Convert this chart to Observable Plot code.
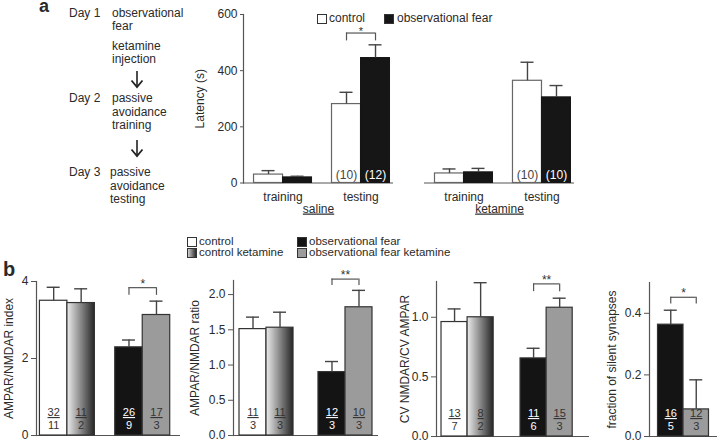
<!DOCTYPE html>
<html><head><meta charset="utf-8">
<script src="https://cdn.jsdelivr.net/npm/d3@7"></script>
<script src="https://cdn.jsdelivr.net/npm/@observablehq/plot@0.6"></script>
<style>
body{margin:0;background:#fff;font-family:"Liberation Sans",Arial,sans-serif;color:#2a2a2a;}
#fig{position:relative;width:717px;height:441px;overflow:hidden;background:#fff;}
.abs{position:absolute;white-space:nowrap;font-size:12px;line-height:14px;}
.leg{font-size:11.5px;line-height:11px;}
.sq{position:absolute;width:8px;height:8px;border:1px solid #333;box-sizing:content-box;}
g[aria-label="fx-axis tick label"] text{text-decoration:underline;}
g[font-style="normal"] text{text-decoration:underline;}
</style></head><body><div id="fig"></div><script>
// ---------------- data ----------------
// timeline (panel a, left)
const timelineDays = ["Day 1", "Day 2", "Day 3"];
const timelineSteps = [
  ["observational", "fear", "ketamine", "injection"],
  ["passive", "avoidance", "training"],
  ["passive", "avoidance", "testing"]
];
// panel a: passive avoidance latency (s)
const aTreatment = ["saline", "saline", "ketamine", "ketamine"];
const aPhase = ["training", "testing", "training", "testing"];
const aControlMean = [30, 281, 34, 364];
const aControlSem = [14, 42, 16, 66];
const aFearMean = [20, 445, 38, 305];
const aFearSem = [4, 47, 14, 42];
const aControlN = ["", "(10)", "", "(10)"];
const aFearN = ["", "(12)", "", "(10)"];
const aSigTreatment = ["saline"];
const aSigPhase = ["testing"];
const aSigLevel = [534];
const aSigLabel = ["*"];
// panel b
const bGroups = ["control", "control ketamine", "observational fear", "observational fear ketamine"];
const indexMean = [3.50, 3.44, 2.29, 3.13];
const indexSem = [0.35, 0.37, 0.19, 0.36];
const indexCells = [32, 11, 26, 17];
const indexAnimals = [11, 2, 9, 3];
const ratioMean = [1.51, 1.53, 0.90, 1.82];
const ratioSem = [0.17, 0.22, 0.15, 0.24];
const ratioCells = [11, 11, 12, 10];
const ratioAnimals = [3, 3, 3, 3];
const cvMean = [0.96, 1.00, 0.655, 1.08];
const cvSem = [0.11, 0.29, 0.085, 0.08];
const cvCells = [13, 8, 11, 15];
const cvAnimals = [7, 2, 6, 3];
const silentGroups = ["observational fear", "observational fear ketamine"];
const silentMean = [0.363, 0.088];
const silentSem = [0.047, 0.096];
const silentCells = [16, 12];
const silentAnimals = [5, 3];
const bSigLevel = [3.84, 2.22, 1.28, 0.452];
const bSigLabel = ["*", "**", "**", "*"];

// ---------------- helpers ----------------
const fig = document.getElementById("fig");
const FONT = "'Liberation Sans', Arial, sans-serif";
function txt(text, left, cy, extra = {}, cls = "") {
  const d = document.createElement("div");
  d.className = "abs " + cls;
  d.textContent = text;
  d.style.left = left + "px";
  d.style.top = (cy - (cls ? 5.5 : 7)) + "px";
  Object.assign(d.style, extra);
  fig.appendChild(d);
  return d;
}
function square(left, cy, fill) {
  const s = document.createElement("div");
  s.className = "sq";
  s.style.left = left + "px";
  s.style.top = (cy - 4.5) + "px";
  s.style.background = fill;
  fig.appendChild(s);
}
function put(node, left, top) {
  node.style.position = "absolute";
  node.style.left = left + "px";
  node.style.top = top + "px";
  fig.appendChild(node);
}
const plotStyle = {fontFamily: FONT, fontSize: "12px", color: "#2a2a2a", background: "transparent", overflow: "visible", maxWidth: "none"};

// ---------------- panel a: timeline ----------------
txt("a", 39, 6, {fontWeight: "bold", fontSize: "18px", lineHeight: "12px", top: "0px"});
const dayTop = [12.5, 97.7, 171.7];
const lineH = 13.8;
timelineDays.forEach((d, i) => {
  txt(d, 69, dayTop[i]);
  timelineSteps[i].forEach((s, j) => {
    const extraGap = (i === 0 && j >= 2) ? 5.5 : 0;
    txt(s, i === 2 ? 110 : 112, dayTop[i] + j * lineH + extraGap);
  });
});
// arrows between days
const arr = d3.create("svg").attr("width", 20).attr("height", 200);
[[71, 87], [140, 156]].forEach(([y1, y2]) => {
  arr.append("line").attr("x1", 10).attr("x2", 10).attr("y1", y1).attr("y2", y2).attr("stroke", "#222").attr("stroke-width", 1.6);
  arr.append("path").attr("d", `M4.5,${y2 - 6.5} L10,${y2} L15.5,${y2 - 6.5}`).attr("fill", "none").attr("stroke", "#222").attr("stroke-width", 1.8);
});
put(arr.node(), 127, 0);

// ---------------- panel a: chart ----------------
const aRows = aTreatment.map((t, i) => ({treatment: t, phase: aPhase[i], cMean: aControlMean[i], cSem: aControlSem[i], fMean: aFearMean[i], fSem: aFearSem[i], cN: aControlN[i], fN: aFearN[i]}));
const aSig = aSigTreatment.map((t, i) => ({treatment: t, phase: aSigPhase[i], level: aSigLevel[i], label: aSigLabel[i]}));
const A = {w: 420, h: 222, mL: 63, mR: 26, mT: 14, mB: 39.5};
const aFx = {pi: 0.171, po: 0};
const aX = {pi: 0.256, po: 0.09, align: 0.75};
const aFacetW = d3.scaleBand().domain(["saline", "ketamine"]).range([0, A.w - A.mL - A.mR]).paddingInner(aFx.pi).paddingOuter(aFx.po).bandwidth();
const aBw = d3.scaleBand().domain(["training", "testing"]).range([0, aFacetW]).paddingInner(aX.pi).paddingOuter(aX.po).align(aX.align).bandwidth();
const aq = aBw / 4, cap = 6.5;
const errStroke = "#444";
const plotA = Plot.plot({
  width: A.w, height: A.h, marginLeft: A.mL, marginRight: A.mR, marginTop: A.mT, marginBottom: A.mB,
  style: plotStyle,
  fx: {domain: ["saline", "ketamine"], paddingInner: aFx.pi, paddingOuter: aFx.po, round: false, label: null},
  x: {domain: ["training", "testing"], paddingInner: aX.pi, paddingOuter: aX.po, align: aX.align, round: false, label: null},
  y: {domain: [0, 600], label: null},
  marks: [
    Plot.frame({anchor: "left", facetAnchor: "left", stroke: "#555", strokeWidth: 1.2}),
    Plot.ruleY([0], {stroke: "#555", strokeWidth: 1.2}),
    Plot.barY(aRows, {fx: "treatment", x: "phase", y: "cMean", fill: "white", stroke: "#666", strokeWidth: 1.2, insetRight: aBw / 2}),
    Plot.barY(aRows, {fx: "treatment", x: "phase", y: "fMean", fill: "#161616", stroke: "#161616", insetLeft: aBw / 2}),
    Plot.ruleX(aRows, {fx: "treatment", x: "phase", y1: "cMean", y2: d => d.cMean + d.cSem, dx: -aq, stroke: errStroke, strokeWidth: 1.4}),
    Plot.tickY(aRows, {fx: "treatment", x: "phase", y: d => d.cMean + d.cSem, insetLeft: aq - cap, insetRight: 3 * aq - cap, stroke: errStroke, strokeWidth: 1.4}),
    Plot.ruleX(aRows, {fx: "treatment", x: "phase", y1: "fMean", y2: d => d.fMean + d.fSem, dx: aq, stroke: errStroke, strokeWidth: 1.4}),
    Plot.tickY(aRows, {fx: "treatment", x: "phase", y: d => d.fMean + d.fSem, insetLeft: 3 * aq - cap, insetRight: aq - cap, stroke: errStroke, strokeWidth: 1.4}),
    Plot.text(aRows, {fx: "treatment", x: "phase", y: 0, text: "cN", dx: -aq, dy: -8, fill: "#444", fontSize: 12}),
    Plot.text(aRows, {fx: "treatment", x: "phase", y: 0, text: "fN", dx: aq, dy: -8, fill: "white", fontSize: 12}),
    Plot.tickY(aSig, {fx: "treatment", x: "phase", y: "level", insetLeft: aq, insetRight: aq, stroke: "#555", strokeWidth: 1.2}),
    Plot.ruleX(aSig, {fx: "treatment", x: "phase", y1: "level", y2: d => d.level - 28, dx: -aq, stroke: "#555", strokeWidth: 1.2}),
    Plot.ruleX(aSig, {fx: "treatment", x: "phase", y1: "level", y2: d => d.level - 28, dx: aq, stroke: "#555", strokeWidth: 1.2}),
    Plot.text(aSig, {fx: "treatment", x: "phase", y: "level", text: "label", dy: -2, fontSize: 11, fill: "#333"}),
    Plot.axisY({ticks: [0, 200, 400, 600], tickSize: 3, tickPadding: 3, label: "Latency (s)", labelArrow: "none", labelAnchor: "center", labelOffset: 48, fontSize: 12, stroke: "#555"}),
    Plot.axisX({tickSize: 0, tickPadding: 9, label: null, fontSize: 12}),
    Plot.axisFx({anchor: "bottom", tickSize: 0, tickPadding: 21, label: null, fontSize: 12})
  ]
});
put(plotA, 180, 0);

// legend a
square(317, 18.3, "white");
txt("control", 329, 18.3);
square(384, 18.3, "#161616");
txt("observational fear", 397, 18.3);

// ---------------- panel b ----------------
txt("b", 3, 270, {fontWeight: "bold", fontSize: "20px", lineHeight: "16px", top: "261px"});
// legend b
square(187, 241, "white");
txt("control", 199, 241, {}, "leg");
square(187, 252.5, "linear-gradient(90deg,#cfcfcf,#2a2a2a)");
txt("control ketamine", 199, 252.5, {}, "leg");
square(297, 241, "#141414");
txt("observational fear", 309, 241, {}, "leg");
square(297, 252.5, "#9b9b9b");
txt("observational fear ketamine", 309, 252.5, {}, "leg");

const groupFill = {
  "control": "white",
  "control ketamine": "GRAD",
  "observational fear": "#141414",
  "observational fear ketamine": "#9b9b9b"
};
const groupText = {
  "control": "#333",
  "control ketamine": "#333",
  "observational fear": "white",
  "observational fear ketamine": "#333"
};
const pairOf = g => g.replace(" ketamine", "");
const isKet = g => g.endsWith("ketamine");

function panelB(cfg, idx) {
  const rows = cfg.groups.map((g, i) => ({group: g, pair: pairOf(g), mean: cfg.mean[i], sem: cfg.sem[i], cells: String(cfg.cells[i]), animals: String(cfg.animals[i])}));
  const sig = [{pair: "observational fear", level: bSigLevel[idx], label: bSigLabel[idx]}];
  const xDomain = cfg.xDomain;
  const frameW = cfg.w - cfg.mL - cfg.mR;
  const bw = d3.scaleBand().domain(xDomain).range([0, frameW]).paddingInner(cfg.pi).paddingOuter(cfg.po).align(cfg.align).bandwidth();
  const q = bw / 4;
  const gradId = "gk" + idx;
  const marks = [
    () => {
      const defs = d3.create("svg:defs");
      const lg = defs.append("linearGradient").attr("id", gradId).attr("x1", "0").attr("x2", "1").attr("y1", "0").attr("y2", "0");
      lg.append("stop").attr("offset", "0%").attr("stop-color", "#ececec");
      lg.append("stop").attr("offset", "100%").attr("stop-color", "#262626");
      return defs.node();
    },
    Plot.frame({anchor: "left", stroke: "#555", strokeWidth: 1.2}),
    Plot.ruleY([0], {stroke: "#555", strokeWidth: 1.2})
  ];
  for (const g of cfg.groups) {
    const data = rows.filter(d => d.group === g);
    const ket = isKet(g);
    const off = ket ? q : -q;
    const fill = groupFill[g] === "GRAD" ? `url(#${gradId})` : groupFill[g];
    marks.push(
      Plot.barY(data, {x: "pair", y: "mean", fill, stroke: "#333", strokeWidth: 1.2, insetLeft: ket ? bw / 2 : 0, insetRight: ket ? 0 : bw / 2}),
      Plot.ruleX(data, {x: "pair", y1: "mean", y2: d => d.mean + d.sem, dx: off, stroke: errStroke, strokeWidth: 1.4}),
      Plot.tickY(data, {x: "pair", y: d => d.mean + d.sem, insetLeft: ket ? 3 * q - cap : q - cap, insetRight: ket ? q - cap : 3 * q - cap, stroke: errStroke, strokeWidth: 1.4}),
      Plot.text(data, {x: "pair", y: 0, text: "cells", dx: off, dy: -23, fill: groupText[g], fontSize: 11, fontStyle: "normal"}),
      Plot.text(data, {x: "pair", y: 0, text: "animals", dx: off, dy: -10, fill: groupText[g], fontSize: 11})
    );
  }
  const drop = cfg.drop;
  marks.push(
    Plot.tickY(sig, {x: "pair", y: "level", insetLeft: q, insetRight: q, stroke: "#555", strokeWidth: 1.2}),
    Plot.ruleX(sig, {x: "pair", y1: "level", y2: d => d.level - drop, dx: -q, stroke: "#555", strokeWidth: 1.2}),
    Plot.ruleX(sig, {x: "pair", y1: "level", y2: d => d.level - drop, dx: q, stroke: "#555", strokeWidth: 1.2}),
    Plot.text(sig, {x: "pair", y: "level", text: "label", dy: -4, fontSize: 12, fill: "#333"}),
    Plot.axisY({ticks: cfg.ticks, tickFormat: cfg.fmt, tickSize: 5, tickPadding: 3, label: cfg.label, labelArrow: "none", labelAnchor: "center", labelOffset: cfg.labelOffset, fontSize: 12, stroke: "#555"})
  );
  const p = Plot.plot({
    width: cfg.w, height: cfg.h, marginLeft: cfg.mL, marginRight: cfg.mR, marginTop: cfg.mT, marginBottom: cfg.mB,
    style: plotStyle,
    x: {domain: xDomain, paddingInner: cfg.pi, paddingOuter: cfg.po, align: cfg.align, round: false, axis: null},
    y: {domain: cfg.yDomain, label: null},
    marks
  });
  put(p, cfg.left, cfg.top);
}

panelB({groups: bGroups, mean: indexMean, sem: indexSem, cells: indexCells, animals: indexAnimals,
  left: 0, top: 270, w: 185, h: 171, mL: 36, mR: 5, mT: 11, mB: 6, yDomain: [0, 4], ticks: [0, 2, 4], fmt: d3.format("d"),
  label: "AMPAR/NMDAR index", labelOffset: 32, xDomain: ["control", "observational fear"], pi: 0.27, po: 0.091, align: 0.25, drop: 0.2}, 0);
panelB({groups: bGroups, mean: ratioMean, sem: ratioSem, cells: ratioCells, animals: ratioAnimals,
  left: 185, top: 270, w: 195, h: 171, mL: 48, mR: 2, mT: 10, mB: 6, yDomain: [0, 2.2], ticks: [0, 0.5, 1, 1.5, 2], fmt: d3.format(".1f"),
  label: "AMPAR/NMDAR ratio", labelOffset: 43, xDomain: ["control", "observational fear"], pi: 0.316, po: 0.076, align: 0.5, drop: 0.09}, 1);
panelB({groups: bGroups, mean: cvMean, sem: cvSem, cells: cvCells, animals: cvAnimals,
  left: 380, top: 270, w: 212, h: 171, mL: 56, mR: 3, mT: 11, mB: 5, yDomain: [0, 1.3], ticks: [0, 0.5, 1], fmt: d3.format(".1f"),
  label: "CV NMDAR/CV AMPAR", labelOffset: 36, xDomain: ["control", "observational fear"], pi: 0.34, po: 0.138, align: 0.23, drop: 0.065}, 2);
panelB({groups: silentGroups, mean: silentMean, sem: silentSem, cells: silentCells, animals: silentAnimals,
  left: 592, top: 270, w: 125, h: 171, mL: 57, mR: 0, mT: 12, mB: 5, yDomain: [0, 0.5], ticks: [0, 0.2, 0.4], fmt: d3.format(".1f"),
  label: "fraction of silent synapses", labelOffset: 42, xDomain: ["observational fear"], pi: 0, po: 0.167, align: 0.5, drop: 0.022}, 3);
</script></body></html>
